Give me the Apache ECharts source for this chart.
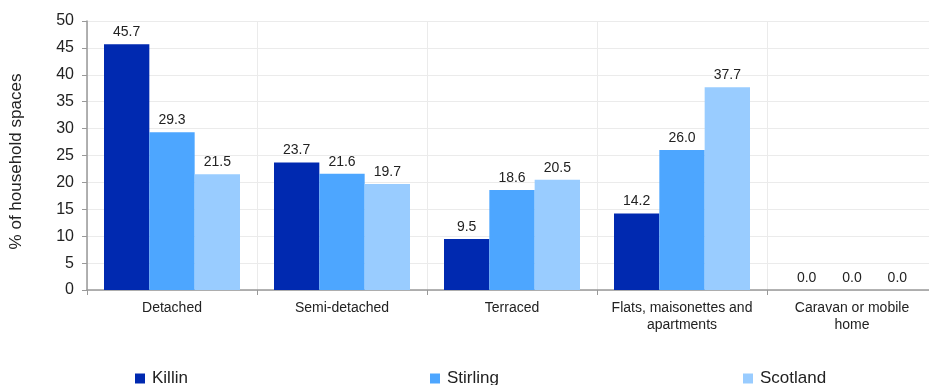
<!DOCTYPE html>
<html><head><meta charset="utf-8">
<script src="https://cdn.jsdelivr.net/npm/echarts@6/dist/echarts.min.js"></script>
<style>html,body{margin:0;padding:0;background:#fff;overflow:hidden;width:929px;height:385px}#c{width:950px;height:385px}</style>
</head><body><div id="c"></div>
<script>
const categories = ['Detached', 'Semi-detached', 'Terraced', 'Flats, maisonettes and apartments', 'Caravan or mobile home'];
const killin = [45.7, 23.7, 9.5, 14.2, 0.0];
const stirling = [29.3, 21.6, 18.6, 26.0, 0.0];
const scotland = [21.5, 19.7, 20.5, 37.7, 0.0];
const seriesNames = ['Killin', 'Stirling', 'Scotland'];
const colors = ['#0029B0', '#4DA6FF', '#99CCFF'];

const font = '"Liberation Sans", Arial, sans-serif';
const chart = echarts.init(document.getElementById('c'));
function mk(name, data, color) {
  return {
    name: name, type: 'bar', data: data, barGap: 0, barCategoryGap: '20%',
    itemStyle: { color: color },
    label: { show: true, position: 'top', distance: 5, color: '#222', fontFamily: font, fontSize: 14,
      formatter: p => p.value.toFixed(1) }
  };
}
function leg(name, left) {
  return { data: [name], left: left, top: 365, icon: 'rect', itemWidth: 10, itemHeight: 10,
    textStyle: { fontFamily: font, fontSize: 17, color: '#222', padding: [0, 0, 0, 2] } };
}
chart.setOption({
  animation: false,
  color: colors,
  grid: { left: 83, top: 21, width: 854, bottom: 95 },
  legend: [leg('Killin', 130), leg('Stirling', 425), leg('Scotland', 738)],
  xAxis: {
    type: 'category', data: categories,
    axisLine: { lineStyle: { color: '#999', width: 1.5 } },
    axisTick: { show: true, length: 5, interval: 0, lineStyle: { color: '#999' } },
    splitLine: { show: true, interval: 0, lineStyle: { color: '#ebebeb' } },
    axisLabel: { interval: 0, fontFamily: font, fontSize: 14, color: '#222', margin: 10, lineHeight: 17,
      formatter: v => v.replace(' and apartments', ' and\napartments').replace('mobile home', 'mobile\nhome') }
  },
  yAxis: {
    type: 'value', min: 0, max: 50, interval: 5,
    name: '% of household spaces', nameLocation: 'middle', nameGap: 62,
    nameTextStyle: { fontFamily: font, fontSize: 17, color: '#222', padding: [0, 12, 0, 0] },
    axisLine: { show: true, lineStyle: { color: '#999', width: 1.5 } },
    axisTick: { show: true, length: 5, lineStyle: { color: '#999' } },
    splitLine: { lineStyle: { color: '#ebebeb' } },
    axisLabel: { fontFamily: font, fontSize: 16, color: '#222', margin: 13 }
  },
  series: [mk(seriesNames[0], killin, colors[0]), mk(seriesNames[1], stirling, colors[1]), mk(seriesNames[2], scotland, colors[2])]
});
</script></body></html>
